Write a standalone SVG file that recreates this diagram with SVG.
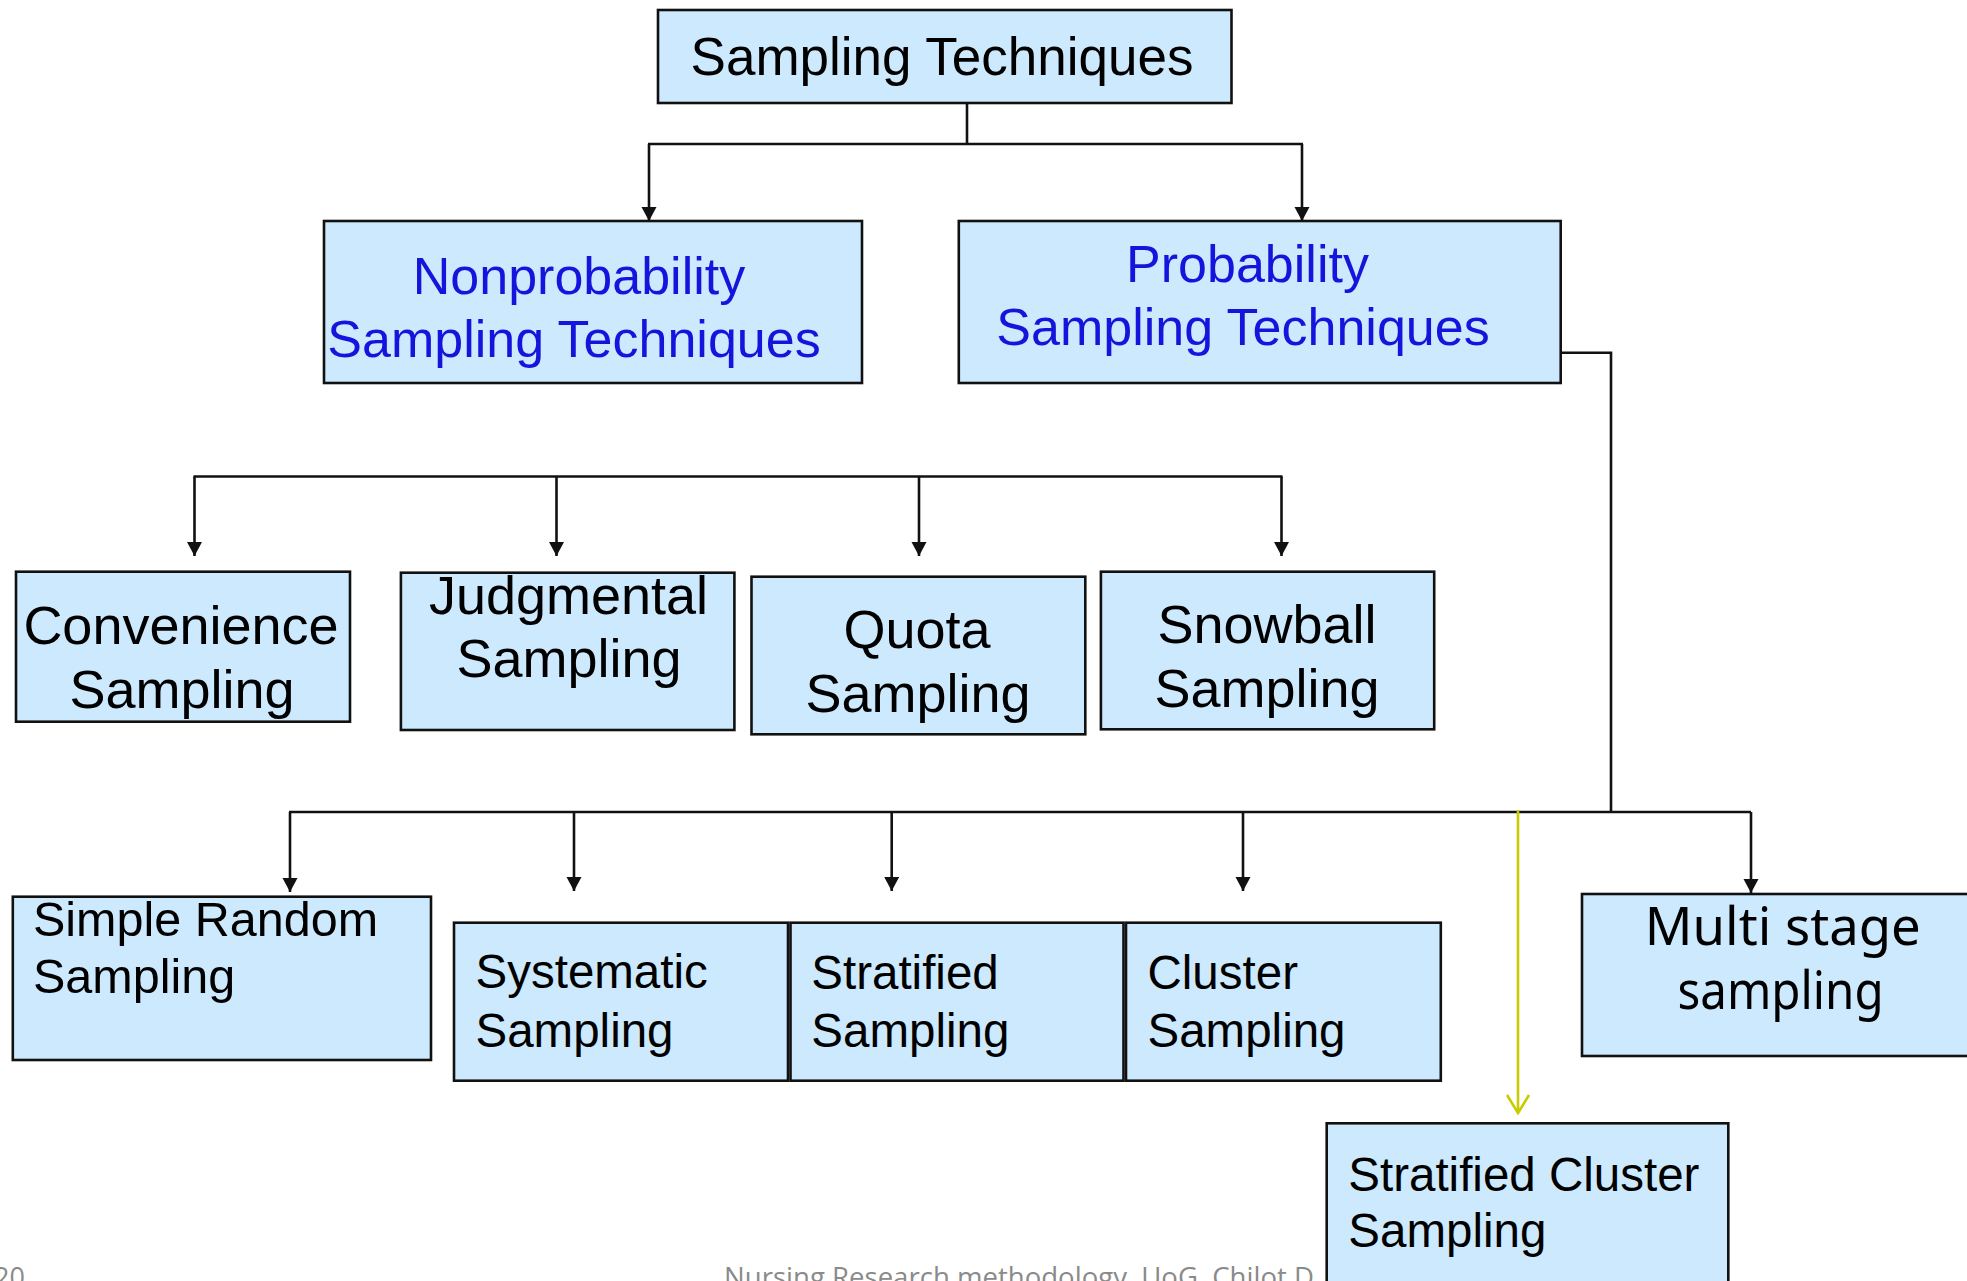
<svg xmlns="http://www.w3.org/2000/svg" width="1967" height="1281" viewBox="0 0 1967 1281">
<style>
.box{fill:#CCE9FD;stroke:#111;stroke-width:2.6}
.t{font-family:"Liberation Sans",Arial,sans-serif;fill:#000}
.b{fill:#1414DC;font-size:52px}
.c{text-anchor:middle}
.f53{font-size:53px}
.f54{font-size:54px}
.f47{font-size:47.5px}
.conn line,.conn polyline{stroke:#111;stroke-width:2.6;fill:none}
.conn .y{stroke:#C8CC00}
.foot{font-family:"Open Sans","Noto Sans",sans-serif;font-size:27px;fill:#8A8A8A}
.ms{font-family:"Comic Sans MS","Noto Sans",sans-serif;font-size:52px;text-anchor:middle;fill:#000}
</style>
<defs>
<marker id="ah" markerUnits="userSpaceOnUse" markerWidth="16" markerHeight="16" refX="14" refY="7.5" orient="auto">
<path d="M0,0 L14,7.5 L0,15 z" fill="#111"/>
</marker>
</defs>
<rect width="1967" height="1281" fill="#fff"/>
<g class="conn">
<line x1="967" y1="103" x2="967" y2="144"/>
<line x1="648" y1="144" x2="1303" y2="144"/>
<line x1="649" y1="144" x2="649" y2="221" marker-end="url(#ah)"/>
<line x1="1302" y1="144" x2="1302" y2="221" marker-end="url(#ah)"/>
<line x1="193.5" y1="476.5" x2="1282.5" y2="476.5"/>
<line x1="194.5" y1="476.5" x2="194.5" y2="556" marker-end="url(#ah)"/>
<line x1="556.5" y1="476.5" x2="556.5" y2="556" marker-end="url(#ah)"/>
<line x1="919" y1="476.5" x2="919" y2="556" marker-end="url(#ah)"/>
<line x1="1281.5" y1="476.5" x2="1281.5" y2="556" marker-end="url(#ah)"/>
<polyline points="1556,352.7 1611,352.7 1611,812"/>
<line x1="289" y1="812" x2="1751" y2="812"/>
<line x1="290" y1="812" x2="290" y2="892" marker-end="url(#ah)"/>
<line x1="574" y1="812" x2="574" y2="891" marker-end="url(#ah)"/>
<line x1="891.7" y1="812" x2="891.7" y2="891" marker-end="url(#ah)"/>
<line x1="1243" y1="812" x2="1243" y2="891" marker-end="url(#ah)"/>
<line x1="1751" y1="812" x2="1751" y2="893" marker-end="url(#ah)"/>
<line class="y" x1="1518" y1="810" x2="1518" y2="1112"/>
<polyline class="y" points="1507,1095 1518,1113 1529,1095"/>
</g>
<g id="n-root"><rect class="box" x="658" y="10" width="573.5" height="93"/><text class="t c f53" x="942" y="75">Sampling Techniques</text></g>
<g id="n-nonprob"><rect class="box" x="324" y="221" width="538" height="162"/><text class="t b c" x="579" y="294">Nonprobability</text><text class="t b c" x="574" y="356.7">Sampling Techniques</text></g>
<g id="n-prob"><rect class="box" x="958.8" y="221" width="601.9" height="162"/><text class="t b c" x="1247.5" y="281.7">Probability</text><text class="t b c" x="1243" y="345">Sampling Techniques</text></g>
<g id="n-conv"><rect class="box" x="16" y="571.7" width="334" height="150"/><text class="t c f54" x="181" y="644">Convenience</text><text class="t c f54" x="182" y="708">Sampling</text></g>
<g id="n-judg"><rect class="box" x="400.9" y="572.7" width="333.5" height="157.3"/><text class="t c f54" x="568.5" y="614">Judgmental</text><text class="t c f54" x="569" y="677.3">Sampling</text></g>
<g id="n-quota"><rect class="box" x="751.5" y="576.7" width="333.8" height="157.6"/><text class="t c f54" x="917" y="648.3">Quota</text><text class="t c f54" x="918" y="711.7">Sampling</text></g>
<g id="n-snow"><rect class="box" x="1100.9" y="571.7" width="333.3" height="157.6"/><text class="t c f54" x="1267" y="643.3">Snowball</text><text class="t c f54" x="1267" y="706.7">Sampling</text></g>
<g id="n-srs"><rect class="box" x="12.8" y="896.7" width="418.2" height="163.3"/><text class="t" style="font-size:48.5px" x="33" y="936">Simple Random</text><text class="t" style="font-size:48.5px" x="33" y="993.3">Sampling</text></g>
<g id="n-sys"><rect class="box" x="454" y="922.7" width="334" height="158"/><text class="t f47" x="475.5" y="988.3">Systematic</text><text class="t f47" x="475.5" y="1046.7">Sampling</text></g>
<g id="n-strat"><rect class="box" x="790.5" y="922.7" width="333" height="158"/><text class="t f47" x="811.3" y="989.3">Stratified</text><text class="t f47" x="811.3" y="1046.7">Sampling</text></g>
<g id="n-clus"><rect class="box" x="1126" y="922.7" width="314.8" height="158"/><text class="t f47" x="1147.5" y="989.3">Cluster</text><text class="t f47" x="1147.5" y="1046.7">Sampling</text></g>
<g id="n-multi"><rect class="box" x="1582" y="894" width="400" height="162"/><text class="ms" x="1782.8" y="945" textLength="276" lengthAdjust="spacingAndGlyphs">Multi stage</text><text class="ms" x="1780.6" y="1009" textLength="206" lengthAdjust="spacingAndGlyphs">sampling</text></g>
<g id="n-scs"><rect class="box" x="1326.7" y="1123.3" width="401.6" height="180"/><text class="t f47" x="1348.3" y="1190.7">Stratified Cluster</text><text class="t f47" x="1348.3" y="1246.7">Sampling</text></g>
<text class="foot" x="724" y="1287" textLength="590" lengthAdjust="spacingAndGlyphs">Nursing Research methodology, UoG, Chilot D</text>
<text class="foot" x="25" y="1287" text-anchor="end">20</text>
</svg>
